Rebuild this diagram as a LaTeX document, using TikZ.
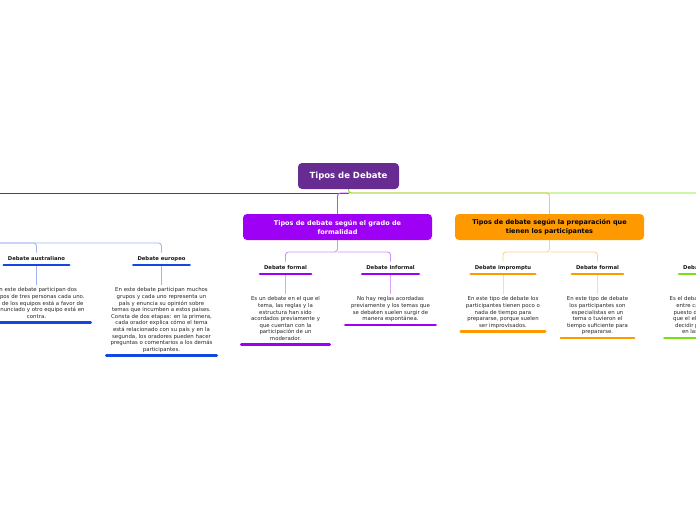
\documentclass[tikz,border=0pt]{standalone}
\usepackage{fontspec}
\setmainfont{DejaVu Sans}
\usetikzlibrary{positioning}

\definecolor{rootpurple}{RGB}{102,44,145}
\definecolor{violetmain}{RGB}{158,0,245}
\definecolor{orangemain}{RGB}{255,153,0}
\definecolor{bluemain}{RGB}{20,70,225}
\definecolor{greenmain}{RGB}{120,225,20}

\tikzset{
  topic/.style={rounded corners=4pt, inner sep=0pt, minimum height=26pt, align=center,
    font=\bfseries\fontsize{6.5}{9}\selectfont},
  sublabel/.style={anchor=south, inner xsep=4pt, inner ysep=3.5pt, text height=3.9pt,
    text depth=1.1pt, text=black!90, font=\bfseries\fontsize{5.3}{6}\selectfont},
  desc/.style={align=center, inner xsep=1pt, inner ysep=2.5pt, text depth=1.5pt,
    text=black!85, font=\fontsize{5.4}{6.6}\selectfont},
  bar/.style={line width=2.6pt, line cap=round},
  link/.style={line width=0.9pt, rounded corners=3pt},
}

\begin{document}
\begin{tikzpicture}[x=1pt,y=-1pt]
  \useasboundingbox (0,0) rectangle (696,520);

  % main topics
  \node[topic, fill=rootpurple, text=white, minimum width=101pt,
    font=\bfseries\fontsize{8.5}{10}\selectfont] (root) at (348.5,176) {Tipos de Debate};
  \node[topic, fill=violetmain, text=white, minimum width=189pt] (formalidad) at (337.5,227)
    {Tipos de debate según el grado de\\formalidad};
  \node[topic, fill=orangemain, text=black, minimum width=189pt] (preparacion) at (549.5,227)
    {Tipos de debate según la preparación que\\tienen los participantes};

  \coordinate (hub) at (348.5,193);
  \coordinate (blueend) at (-10,193);
  \coordinate (greenend) at (706,193);

  % subtopics
  \node[sublabel] (australiano) at (36.5,265) {Debate australiano};
  \node[sublabel] (europeo) at (161.5,265) {Debate europeo};
  \node[sublabel] (formal) at (285.5,274) {Debate formal};
  \node[sublabel] (informal) at (390.5,274) {Debate informal};
  \node[sublabel] (impromptu) at (503,274) {Debate impromptu};
  \node[sublabel] (formalpre) at (597.5,274) {Debate formal};
  \node[sublabel] (politico) at (706,274) {Debate político};

  \node[desc, minimum width=108pt, below=20pt of australiano] (australianotxt)
    {En este debate participan dos\\equipos de tres personas cada uno.\\Uno de los equipos está a favor de\\un enunciado y otro equipo está en\\contra.};
  \node[desc, minimum width=110pt, below=20pt of europeo] (europeotxt)
    {En este debate participan muchos\\grupos y cada uno representa un\\país y enuncia su opinión sobre\\temas que incumben a estos países.\\Consta de dos etapas: en la primera,\\cada orador explica cómo el tema\\está relacionado con su país y en la\\segunda, los oradores pueden hacer\\preguntas o comentarios a los demás\\participantes.};
  \node[desc, minimum width=88pt, below=20pt of formal] (formaltxt)
    {Es un debate en el que el\\tema, las reglas y la\\estructura han sido\\acordados previamente y\\que cuentan con la\\participación de un\\moderador.};
  \node[desc, minimum width=90pt, below=20pt of informal] (informaltxt)
    {No hay reglas acordadas\\previamente y los temas que\\se debaten suelen surgir de\\manera espontánea.};
  \node[desc, minimum width=84pt, below=20pt of impromptu] (impromptutxt)
    {En este tipo de debate los\\participantes tienen poco o\\nada de tiempo para\\prepararse, porque suelen\\ser improvisados.};
  \node[desc, minimum width=73pt, below=20pt of formalpre] (formalpretxt)
    {En este tipo de debate\\los participantes son\\especialistas en un\\tema o tuvieron el\\tiempo suficiente para\\prepararse.};
  \node[desc, minimum width=83pt, below=20pt of politico] (politicotxt)
    {Es el debate que se realiza\\entre candidatos a un\\puesto de elección para\\que el electorado pueda\\decidir por quién votar\\en las elecciones.};

  % branches of the root
  \draw[link, bluemain] (hub) -- (blueend);
  \draw[link, orangemain!60] (hub) -| (preparacion.north);
  \draw[link, greenmain] (root.south) -- (hub) -- (greenend);
  \draw[link, violetmain!70] (hub) -| (formalidad.north);

  % branches of the subtopics
  \coordinate (bluehub) at (-20,243);
  \draw[link, bluemain!40] (bluehub) -| (europeo.north);
  \draw[link, bluemain!40] (bluehub) -| (australiano.north);
  \coordinate (formalidadhub) at (337.5,252);
  \draw[link, violetmain!45] (formalidad.south) -- (formalidadhub) -| (formal.north);
  \draw[link, violetmain!45] (formalidadhub) -| (informal.north);
  \coordinate (preparacionhub) at (549.5,252);
  \draw[link, orangemain!45] (preparacion.south) -- (preparacionhub) -| (impromptu.north);
  \draw[link, orangemain!45] (preparacionhub) -| (formalpre.north);
  \coordinate (politicohub) at (720,252);
  \draw[link, greenmain!45] (politicohub) -| (politico.north);

  \draw[link, bluemain!40] (australiano.south) -- (australianotxt.north);
  \draw[link, bluemain!40] (europeo.south) -- (europeotxt.north);
  \draw[link, violetmain!35] (formal.south) -- (formaltxt.north);
  \draw[link, violetmain!35] (informal.south) -- (informaltxt.north);
  \draw[link, orangemain!35] (impromptu.south) -- (impromptutxt.north);
  \draw[link, orangemain!35] (formalpre.south) -- (formalpretxt.north);
  \draw[link, greenmain!35] (politico.south) -- (politicotxt.north);

  % underlines
  \foreach \n/\c in {australiano/bluemain, australianotxt/bluemain, europeo/bluemain,
      europeotxt/bluemain, formal/violetmain, formaltxt/violetmain, informal/violetmain,
      informaltxt/violetmain, impromptu/orangemain, impromptutxt/orangemain,
      formalpre/orangemain, formalpretxt/orangemain, politico/greenmain, politicotxt/greenmain}
    \draw[bar, \c] (\n.south west) -- (\n.south east);
\end{tikzpicture}
\end{document}
